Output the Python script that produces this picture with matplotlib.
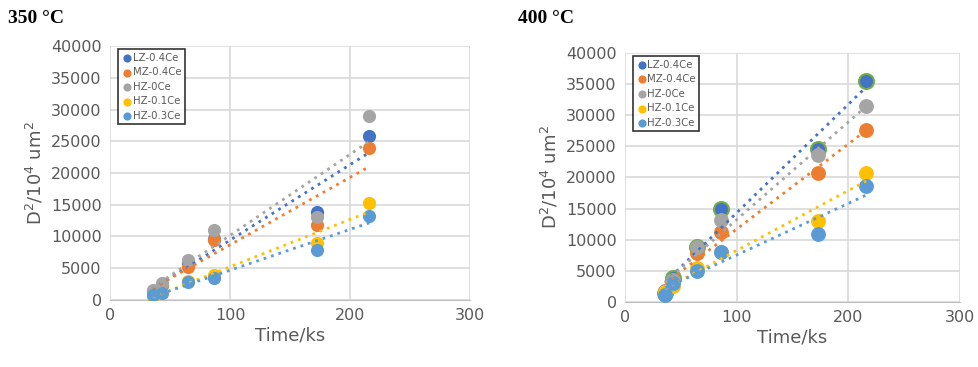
import numpy as np
import matplotlib.pyplot as plt

# time points (ks): 10, 12, 18, 24, 48, 60 h
time_ks = [36, 43.2, 64.8, 86.4, 172.8, 216]
series_names = ['LZ-0.4Ce', 'MZ-0.4Ce', 'HZ-0Ce', 'HZ-0.1Ce', 'HZ-0.3Ce']
colors = ['#4472C4', '#ED7D31', '#A5A5A5', '#FFC000', '#5B9BD5']

# D^2 / 10^4 um^2 at 350 C
d2_350 = {
    'LZ-0.4Ce': [1300, 2400, 5800, 9600, 13900, 25800],
    'MZ-0.4Ce': [1400, 2400, 5250, 9450, 11750, 23900],
    'HZ-0Ce':   [1500, 2600, 6300, 11000, 13100, 29000],
    'HZ-0.1Ce': [600, 1100, 3000, 4000, 8900, 15200],
    'HZ-0.3Ce': [800, 1050, 2900, 3400, 7900, 13300],
}
# D^2 / 10^4 um^2 at 400 C
d2_400 = {
    'LZ-0.4Ce': [1500, 3900, 8900, 15000, 24500, 35500],
    'MZ-0.4Ce': [1800, 3500, 7800, 11300, 20800, 27700],
    'HZ-0Ce':   [1700, 3600, 8900, 13100, 23600, 31500],
    'HZ-0.1Ce': [1600, 2600, 5500, 8000, 13000, 20800],
    'HZ-0.3Ce': [1200, 3100, 5000, 8000, 10900, 18700],
}

txt_col = '#595959'


def draw(ax, data, msize, green_edge=False):
    t = np.array(time_ks)
    for name, c in zip(series_names, colors):
        y = np.array(data[name])
        if green_edge and name == 'LZ-0.4Ce':
            ax.scatter(t, y, s=msize, color=c, edgecolors='#70AD47',
                       linewidths=1.5, label=name, zorder=3)
        else:
            ax.scatter(t, y, s=msize, color=c, linewidths=0, label=name, zorder=3)
    for name, c in zip(series_names, colors):
        y = np.array(data[name])
        k, b = np.polyfit(t, y, 1)
        xx = np.array([t.min(), t.max()])
        ax.plot(xx, k * xx + b, linestyle=(0, (1, 1.8)), color=c, lw=2.0, zorder=4)
    ax.set_xlim(0, 300)
    ax.set_ylim(0, 40000)
    ax.set_xticks([0, 100, 200, 300])
    ax.set_yticks(range(0, 40001, 5000))
    ax.grid(True, color='#D9D9D9', lw=1.2)
    ax.set_axisbelow(True)
    for s in ['top', 'right', 'left']:
        ax.spines[s].set_visible(False)
    ax.spines['bottom'].set_color('#BFBFBF')
    ax.tick_params(length=0, labelsize=11.5, colors=txt_col, pad=6)
    ax.set_xlabel('Time/ks', fontsize=13, color=txt_col, labelpad=2)
    ax.set_ylabel('D$^2$/10$^4$ um$^2$', fontsize=13, color=txt_col, labelpad=4)
    leg = ax.legend(loc='upper left', fontsize=7.3, frameon=True, fancybox=False,
                    markerscale=0.62 if not green_edge else 0.55,
                    handletextpad=0.05, borderpad=0.35,
                    labelspacing=0.45, handlelength=1.0, borderaxespad=0.3,
                    bbox_to_anchor=(0.015, 1.0))
    leg.get_frame().set_edgecolor('black')
    leg.get_frame().set_linewidth(1.2)
    for h in leg.legend_handles:
        h.set_linewidth(0)
    for tx in leg.get_texts():
        tx.set_color(txt_col)


fig = plt.figure(figsize=(9.79, 3.67), dpi=100)
ax1 = fig.add_axes([0.1124, 0.1826, 0.3677, 0.692])
ax2 = fig.add_axes([0.6384, 0.1771, 0.3422, 0.6785])
draw(ax1, d2_350, 90)
draw(ax2, d2_400, 115, green_edge=True)

fig.text(0.008, 0.95, '350 °C', fontsize=14, fontweight='bold',
         family='Liberation Serif', va='center')
fig.text(0.529, 0.95, '400 °C', fontsize=14, fontweight='bold',
         family='Liberation Serif', va='center')

fig.savefig('out.png', dpi=100)
